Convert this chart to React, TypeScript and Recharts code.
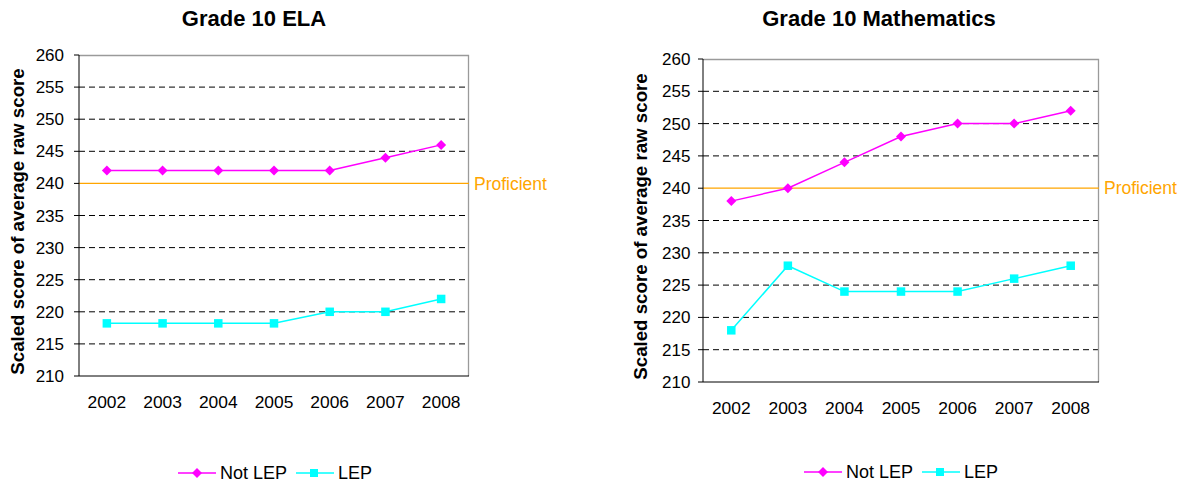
import { CartesianGrid, Legend, Line, LineChart, ReferenceLine, XAxis, YAxis } from 'recharts'

const years = ['2002', '2003', '2004', '2005', '2006', '2007', '2008']
const elaNotLep = [242, 242, 242, 242, 242, 244, 246]
const elaLep = [218.2, 218.2, 218.2, 218.2, 220, 220, 222]
const mathNotLep = [238, 240, 244, 248, 250, 250, 252]
const mathLep = [218, 228, 224, 224, 224, 226, 228]
const yTicks = [210, 215, 220, 225, 230, 235, 240, 245, 250, 255, 260]
const proficientScore = 240

const FONT = '"Liberation Sans", Arial, sans-serif'
const MAGENTA = '#FF00FF'
const CYAN = '#00FFFF'
const ORANGE = '#FFA500'
const BORDER = '#9A9A9A'

// dashed grid lines between the axis ends, skipping the proficient line
const gridValues = yTicks.filter((t) => t !== yTicks[0] && t !== yTicks[yTicks.length - 1] && t !== proficientScore)

function Diamond({ cx, cy, r = 5 }: { cx?: number; cy?: number; r?: number }) {
  if (cx == null || cy == null) return null
  return <path d={`M${cx},${cy - r}L${cx + r},${cy}L${cx},${cy + r}L${cx - r},${cy}Z`} fill={MAGENTA} stroke="none" />
}

function Square({ cx, cy, s = 8.5 }: { cx?: number; cy?: number; s?: number }) {
  if (cx == null || cy == null) return null
  return <rect x={cx - s / 2} y={cy - s / 2} width={s} height={s} fill={CYAN} stroke="none" />
}

const renderDiamond = (props: any) => <Diamond key={`d-${props.index}`} cx={props.cx} cy={props.cy} />
const renderSquare = (props: any) => <Square key={`s-${props.index}`} cx={props.cx} cy={props.cy} />

function LegendContent() {
  return (
    <svg width={230} height={20} style={{ display: 'block', overflow: 'visible' }}>
      <line x1={0} y1={10} x2={38} y2={10} stroke={MAGENTA} strokeWidth={1.5} />
      <Diamond cx={19} cy={10} />
      <text x={42} y={16.3} fontSize={18} fontFamily={FONT} fill="#000">Not LEP</text>
      <line x1={118} y1={10} x2={156} y2={10} stroke={CYAN} strokeWidth={1.5} />
      <Square cx={136} cy={10} s={8} />
      <text x={160} y={16.3} fontSize={18} fontFamily={FONT} fill="#000">LEP</text>
    </svg>
  )
}

interface ScoreChartProps {
  title: string
  notLep: number[]
  lep: number[]
  width: number
  plotLeft: number
  plotRight: number
  plotTop: number
  plotBottom: number
  titleX: number
  labelX: number
  labelY: number
  tickGap: number
  legendLeft: number
  legendTop: number
}

function ScoreChart(p: ScoreChartProps) {
  const data = years.map((year, i) => ({ year, notLep: p.notLep[i], lep: p.lep[i] }))
  const height = 482
  return (
    <LineChart
      width={p.width}
      height={height}
      data={data}
      margin={{ top: p.plotTop, left: 0, right: p.width - p.plotRight, bottom: height - p.plotBottom - 30 }}
      style={{ fontFamily: FONT }}
    >
      <CartesianGrid
        xAxisId="b"
        yAxisId="l"
        vertical={false}
        horizontalValues={gridValues}
        stroke="#000"
        strokeDasharray="6 4"
      />
      {/* plot frame: grey top and right edges */}
      <path
        d={`M${p.plotLeft},${p.plotTop + 0.5}H${p.plotRight - 0.5}V${p.plotBottom}`}
        fill="none"
        stroke={BORDER}
        strokeWidth={1.3}
      />
      <XAxis
        xAxisId="b"
        dataKey="year"
        height={30}
        scale="band"
        axisLine={{ stroke: '#000' }}
        tickLine={false}
        tickSize={0}
        tickMargin={20}
        tick={{ fontSize: 17.4, fill: '#000', fontFamily: FONT }}
        interval={0}
      />
      <YAxis
        yAxisId="l"
        width={p.plotLeft}
        domain={[210, 260]}
        ticks={yTicks}
        interval={0}
        axisLine={{ stroke: '#000' }}
        tickLine={{ stroke: '#000' }}
        tickSize={5}
        tickMargin={p.tickGap}
        tick={{ fontSize: 17, fill: '#000', fontFamily: FONT }}
      />
      <ReferenceLine
        xAxisId="b"
        yAxisId="l"
        y={proficientScore}
        stroke={ORANGE}
        strokeWidth={1.2}
        label={{ value: 'Proficient', position: 'right', offset: 5, fill: ORANGE, fontSize: 17.5, fontFamily: FONT }}
      />
      <Line xAxisId="b" yAxisId="l" type="linear" dataKey="notLep" name="Not LEP" stroke={MAGENTA} strokeWidth={1.5} dot={renderDiamond} activeDot={false} isAnimationActive={false} />
      <Line xAxisId="b" yAxisId="l" type="linear" dataKey="lep" name="LEP" stroke={CYAN} strokeWidth={1.5} dot={renderSquare} activeDot={false} isAnimationActive={false} />
      <Legend
        layout="horizontal"
        verticalAlign="middle"
        align="center"
        content={() => <LegendContent />}
        wrapperStyle={{ left: p.legendLeft, top: p.legendTop, width: 230, height: 20 }}
      />
      <text x={p.titleX} y={26} textAnchor="middle" fontSize={22} fontWeight="bold" fontFamily={FONT} fill="#000">
        {p.title}
      </text>
      <text
        x={p.labelX}
        y={p.labelY}
        transform={`rotate(-90 ${p.labelX} ${p.labelY})`}
        textAnchor="middle"
        fontSize={18.7}
        fontWeight="bold"
        fontFamily={FONT}
        fill="#000"
      >
        Scaled score of average raw score
      </text>
    </LineChart>
  )
}

export default function App() {
  return (
    <div style={{ position: 'absolute', left: 0, top: 0, width: 1186, height: 482, background: '#fff', display: 'flex' }}>
      <ScoreChart
        title="Grade 10 ELA"
        notLep={elaNotLep}
        lep={elaLep}
        width={600}
        plotLeft={79}
        plotRight={469}
        plotTop={55}
        plotBottom={376}
        titleX={254}
        labelX={24}
        labelY={221.5}
        tickGap={10}
        legendLeft={178}
        legendTop={463}
      />
      <ScoreChart
        title="Grade 10 Mathematics"
        notLep={mathNotLep}
        lep={mathLep}
        width={586}
        plotLeft={103}
        plotRight={499}
        plotTop={59}
        plotBottom={382}
        titleX={279}
        labelX={47}
        labelY={226.5}
        tickGap={7.6}
        legendLeft={204}
        legendTop={462}
      />
    </div>
  )
}
